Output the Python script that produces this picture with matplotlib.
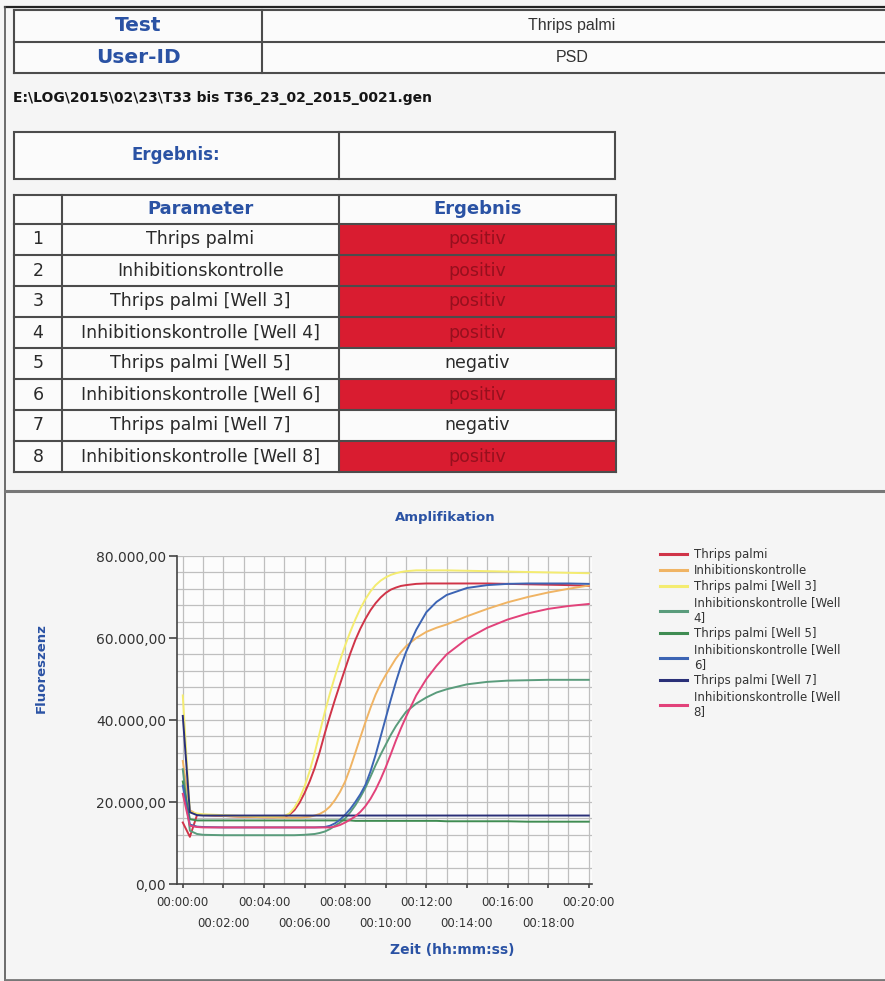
import numpy as np
import matplotlib
matplotlib.use('Agg')
import matplotlib.pyplot as plt
from matplotlib.patches import Rectangle

# Kopfdaten
header_labels = ['Test', 'User-ID']
header_values = ['Thrips palmi', 'PSD']
file_path = r'E:\LOG\2015\02\23\T33 bis T36_23_02_2015_0021.gen'

# Ergebnistabelle
row_numbers = ['1', '2', '3', '4', '5', '6', '7', '8']
parameters = ['Thrips palmi', 'Inhibitionskontrolle', 'Thrips palmi [Well 3]',
              'Inhibitionskontrolle [Well 4]', 'Thrips palmi [Well 5]',
              'Inhibitionskontrolle [Well 6]', 'Thrips palmi [Well 7]',
              'Inhibitionskontrolle [Well 8]']
results = ['positiv', 'positiv', 'positiv', 'positiv', 'negativ',
           'positiv', 'negativ', 'positiv']

# Amplifikationskurven (Zeit in Minuten, Fluoreszenz)
time_min = [0, 0.35, 0.7, 1, 2, 3, 4, 4.5,
            5, 5.25, 5.5, 5.75, 6, 6.25, 6.5, 6.75,
            7, 7.25, 7.5, 7.75, 8, 8.25, 8.5, 8.75,
            9, 9.25, 9.5, 9.75, 10, 10.25, 10.5, 10.75,
            11, 11.5, 12, 12.5, 13, 14, 15, 16, 17, 18, 19, 20]
thrips = [15000, 11500, 16800, 16800, 16600, 16400, 16300, 16300,
          16400, 16900, 18000, 19800, 22200, 25000, 28300, 32300,
          36800, 41000, 45000, 48800, 52500, 56200, 59500, 62300,
          64700, 66800, 68500, 69900, 71000, 71800, 72300, 72700,
          72900, 73200, 73300, 73300, 73300, 73300, 73300, 73200, 73100, 73000, 72900, 72700]
inhib = [30000, 18000, 17000, 16900, 16600, 16400, 16300, 16250,
         16200, 16200, 16200, 16200, 16300, 16400, 16700, 17100,
         17800, 18900, 20500, 22500, 25000, 28300, 32000, 35800,
         39500, 43000, 46200, 48800, 51000, 53000, 55000, 56600,
         58000, 60000, 61500, 62500, 63300, 65300, 67100, 68700, 70000, 71100, 72000, 72800]
well3 = [46000, 17500, 17200, 17000, 16800, 16600, 16500, 16500,
         16600, 17200, 18600, 20800, 23800, 27500, 32000, 37000,
         42000, 46500, 50700, 54600, 58200, 61500, 64500, 67200,
         69500, 71400, 72900, 74000, 74800, 75400, 75800, 76100,
         76300, 76500, 76500, 76500, 76500, 76400, 76300, 76200, 76100, 76000, 75900, 75800]
well4 = [28000, 13000, 12200, 12000, 11900, 11900, 11900, 11900,
         11900, 11900, 11900, 11950, 12000, 12100, 12200, 12450,
         12800, 13400, 14200, 15000, 16000, 17500, 19200, 21200,
         23500, 26200, 29000, 31600, 34000, 36400, 38500, 40300,
         42000, 44000, 45500, 46700, 47500, 48700, 49300, 49600, 49700, 49800, 49800, 49800]
well5 = [25000, 15800, 15500, 15500, 15500, 15500, 15500, 15500,
         15500, 15500, 15500, 15500, 15500, 15500, 15500, 15500,
         15500, 15500, 15500, 15500, 15500, 15500, 15400, 15400,
         15400, 15400, 15400, 15400, 15400, 15400, 15400, 15400,
         15400, 15400, 15400, 15400, 15300, 15300, 15300, 15300, 15200, 15200, 15200, 15200]
well6 = [24000, 14500, 14000, 13900, 13800, 13800, 13800, 13800,
         13800, 13800, 13800, 13800, 13800, 13800, 13800, 13850,
         13900, 14200, 14800, 15700, 16900, 18300, 20000, 21900,
         24200, 27500, 31500, 36000, 40500, 45000, 49300, 53200,
         56600, 62000, 66300, 68800, 70500, 72200, 72900, 73200, 73300, 73300, 73300, 73200]
well7 = [41000, 17500, 16800, 16700, 16700, 16700, 16700, 16700,
         16700, 16700, 16700, 16700, 16700, 16700, 16700, 16700,
         16700, 16700, 16700, 16700, 16700, 16700, 16700, 16700,
         16700, 16700, 16700, 16700, 16700, 16700, 16700, 16700,
         16700, 16700, 16700, 16700, 16700, 16700, 16700, 16700, 16700, 16700, 16700, 16700]
well8 = [22000, 14200, 13900, 13800, 13800, 13800, 13800, 13800,
         13800, 13800, 13800, 13800, 13800, 13800, 13800, 13800,
         13800, 13800, 14000, 14400, 15000, 15700, 16500, 17600,
         19000, 20800, 23000, 25600, 28500, 31700, 35000, 38000,
         40800, 46000, 50000, 53200, 56000, 59800, 62500, 64500, 66000, 67100, 67800, 68300]

series = [thrips, inhib, well3, well4, well5, well6, well7, well8]
legend_labels = ['Thrips palmi', 'Inhibitionskontrolle', 'Thrips palmi [Well 3]',
                 'Inhibitionskontrolle [Well\n4]', 'Thrips palmi [Well 5]',
                 'Inhibitionskontrolle [Well\n6]', 'Thrips palmi [Well 7]',
                 'Inhibitionskontrolle [Well\n8]']
colors = ['#d03448', '#f0b464', '#f4ec70', '#5a9c7c', '#3f8c52',
          '#3c64b4', '#2a3078', '#e2427a']

x_ticks_top = [0, 4, 8, 12, 16, 20]
x_ticks_bottom = [2, 6, 10, 14, 18]
y_ticks = [0, 20000, 40000, 60000, 80000]

blue = '#2a52a4'
line_col = '#4c4c4c'
page_col = '#f5f5f5'
cell_col = '#fbfbfb'
red_fill = '#d91c30'

fig = plt.figure(figsize=(8.85, 9.81), dpi=100, facecolor=page_col)
bg = fig.add_axes([0, 0, 1, 1])
bg.set_xlim(0, 885)
bg.set_ylim(981, 0)
bg.axis('off')

# Seitenrahmen
bg.plot([5, 885], [7, 7], color='#222222', lw=1.6)
bg.plot([5, 5], [7, 981], color='#555555', lw=1.2)
bg.plot([5, 885], [491, 491], color='#777777', lw=2.2)
bg.plot([5, 885], [980, 980], color='#777777', lw=2.0)

# Tabelle Test / User-ID
t1_x = [14, 262, 885]
t1_y = [10, 41.5, 73]
for i in range(2):
    bg.add_patch(Rectangle((t1_x[0], t1_y[i]), t1_x[2] - t1_x[0], t1_y[i + 1] - t1_y[i],
                           facecolor=cell_col, edgecolor='none'))
    ym = (t1_y[i] + t1_y[i + 1]) / 2
    bg.text((t1_x[0] + t1_x[1]) / 2, ym, header_labels[i], color=blue, fontsize=14.5,
            fontweight='bold', ha='center', va='center', family='DejaVu Sans')
    bg.text(572, ym, header_values[i], color='#333333', fontsize=11.5,
            ha='center', va='center', family='Liberation Sans')
for y in t1_y:
    bg.plot([t1_x[0], t1_x[2]], [y, y], color=line_col, lw=1.5)
for x in t1_x[:2]:
    bg.plot([x, x], [t1_y[0], t1_y[-1]], color=line_col, lw=1.5)

bg.text(13, 98, file_path, fontsize=10, fontweight='bold', color='#151515',
        ha='left', va='center', family='DejaVu Sans')

# Ergebnis-Kasten
bg.add_patch(Rectangle((14, 132), 601, 47, facecolor=cell_col, edgecolor=line_col, lw=1.5))
bg.plot([339, 339], [132, 179], color=line_col, lw=1.5)
bg.text(176, 155.5, 'Ergebnis:', color=blue, fontsize=12, fontweight='bold',
        ha='center', va='center', family='DejaVu Sans')

# Parametertabelle
cx = [14, 62, 339, 616]
head_top, head_bot, row_h = 195, 224, 31
bg.add_patch(Rectangle((cx[0], head_top), cx[3] - cx[0], head_bot - head_top,
                       facecolor=cell_col, edgecolor='none'))
bg.text((cx[1] + cx[2]) / 2, (head_top + head_bot) / 2, 'Parameter', color=blue,
        fontsize=13, fontweight='bold', ha='center', va='center', family='DejaVu Sans')
bg.text((cx[2] + cx[3]) / 2, (head_top + head_bot) / 2, 'Ergebnis', color=blue,
        fontsize=13, fontweight='bold', ha='center', va='center', family='DejaVu Sans')
for i, (num, par, res) in enumerate(zip(row_numbers, parameters, results)):
    top = head_bot + i * row_h
    ym = top + row_h / 2
    bg.add_patch(Rectangle((cx[0], top), cx[2] - cx[0], row_h, facecolor=cell_col,
                           edgecolor='none'))
    pos = res == 'positiv'
    bg.add_patch(Rectangle((cx[2], top), cx[3] - cx[2], row_h,
                           facecolor=red_fill if pos else cell_col, edgecolor='none'))
    bg.text((cx[0] + cx[1]) / 2, ym, num, fontsize=12.5, color='#2a2a2a',
            ha='center', va='center', family='DejaVu Sans')
    bg.text((cx[1] + cx[2]) / 2, ym, par, fontsize=12.5, color='#2a2a2a',
            ha='center', va='center', family='DejaVu Sans')
    bg.text((cx[2] + cx[3]) / 2, ym, res, fontsize=12.5,
            color='#96101e' if pos else '#2a2a2a',
            ha='center', va='center', family='DejaVu Sans')
n_rows = len(parameters)
for k in range(n_rows + 2):
    y = head_top if k == 0 else head_bot + (k - 1) * row_h
    bg.plot([cx[0], cx[3]], [y, y], color=line_col, lw=1.5)
for x in cx:
    bg.plot([x, x], [head_top, head_bot + n_rows * row_h], color=line_col, lw=1.5)

# Diagramm
ax = fig.add_axes([177.3 / 885, 1 - 884 / 981, (592 - 177.3) / 885, (884 - 556) / 981])
ax.set_facecolor('#fcfcfc')
ax.set_xlim(-0.27, 20.16)
ax.set_ylim(0, 80000)

for m in range(0, 21):
    ax.axvline(m, color='#bfbfbf', lw=0.9, zorder=0)
for v in range(4000, 80001, 4000):
    ax.axhline(v, color='#bfbfbf', lw=0.9, zorder=0)

lines = []
for vals, col in zip(series, colors):
    ln, = ax.plot(time_min, vals, color=col, lw=1.4, solid_joinstyle='round')
    lines.append(ln)

for s in ['top', 'right']:
    ax.spines[s].set_visible(False)
for s in ['left', 'bottom']:
    ax.spines[s].set_color('#444444')
    ax.spines[s].set_linewidth(1.2)

def de_fmt(v):
    return f'{v:,.2f}'.replace(',', 'X').replace('.', ',').replace('X', '.')

def hms(m):
    return f'00:{int(m):02d}:00'

ax.set_yticks(y_ticks)
ax.set_yticklabels([de_fmt(v) for v in y_ticks])
ax.set_xticks(x_ticks_top)
ax.set_xticklabels([hms(m) for m in x_ticks_top])
ax.set_xticks(x_ticks_bottom, minor=True)
ax.set_xticklabels([hms(m) for m in x_ticks_bottom], minor=True)
ax.tick_params(axis='y', length=6, width=1.2, color='#444444', pad=2,
               labelsize=10, labelcolor='#333333')
ax.tick_params(axis='x', which='major', length=3, width=1.2, color='#444444', pad=6,
               labelsize=8.5, labelcolor='#333333')
ax.tick_params(axis='x', which='minor', length=3, width=1.2, color='#444444', pad=21,
               labelsize=8.5, labelcolor='#333333')

bg.text(445, 518, 'Amplifikation', color=blue, fontsize=9.5, fontweight='bold',
        ha='center', va='center', family='DejaVu Sans')
bg.text(41, 668, 'Fluoreszenz', color=blue, fontsize=9.5, fontweight='bold',
        rotation=90, ha='center', va='center', family='DejaVu Sans')
bg.text(452, 950, 'Zeit (hh:mm:ss)', color=blue, fontsize=10, fontweight='bold',
        ha='center', va='center', family='DejaVu Sans')

leg = ax.legend(lines, legend_labels, loc='upper left',
                bbox_to_anchor=(660 / 885, 1 - 548 / 981), bbox_transform=fig.transFigure,
                frameon=False, fontsize=8.5, handlelength=2.3, handletextpad=0.55,
                labelspacing=0.25, borderpad=0, borderaxespad=0)
for ln in leg.get_lines():
    ln.set_linewidth(2.2)
for txt in leg.get_texts():
    txt.set_color('#333333')

fig.savefig('out.png', dpi=100, facecolor=page_col)
